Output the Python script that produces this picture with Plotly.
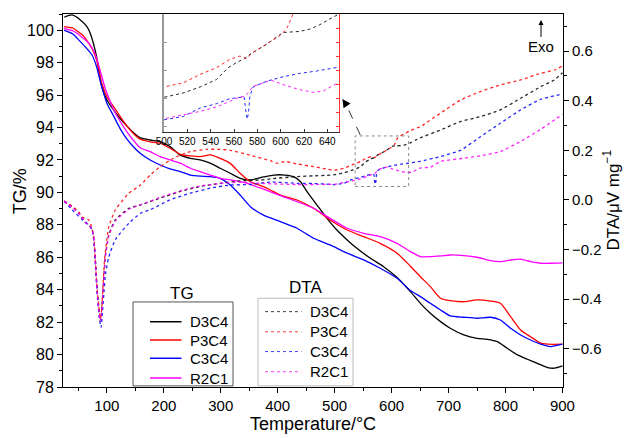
import plotly.graph_objects as go

# ---------------- TG data (temperature / °C, mass / %) ----------------
d3c4_tg_t = [25, 39, 53, 65, 71, 82, 91, 100, 112, 123, 135, 147, 158.5, 176, 193.7, 211, 229, 246.6, 264, 281.5,
             299, 316.7, 334, 352, 375, 393, 413, 428, 440, 451.5, 469, 486.6, 504, 522, 539, 562.7, 586, 609.7,
             633, 650.6, 668, 686, 703, 727, 750, 768, 785.6, 803, 821, 838.7, 856, 874, 886, 900]
d3c4_tg = [100.8, 100.94, 100.65, 100.22, 99.8, 98.37, 96.52, 95.7, 95.08, 94.57, 94.1, 93.68, 93.38, 93.23, 93.13,
           92.82, 92.3, 92.1, 92.0, 91.8, 91.49, 91.18, 90.87, 90.77, 90.95, 91.07, 91.07, 90.97, 90.66, 90.05,
           89.22, 88.4, 87.68, 87.07, 86.55, 85.94, 85.42, 84.75, 83.88, 83.16, 82.55, 82.03, 81.62, 81.21, 81.0,
           80.94, 80.8, 80.39, 79.98, 79.71, 79.46, 79.2, 79.16, 79.3]

p3c4_tg_t = [25, 41, 48, 59, 68, 75, 82, 91, 100, 112, 123, 135, 147, 158.5, 176, 193.7, 211, 229, 246.6, 264, 281.5,
             299, 316.7, 334, 352, 375, 387, 404.6, 434, 463, 492, 522, 551, 580, 609.7, 633, 650.6, 668, 686, 703,
             727, 750, 773.6, 791, 809, 826.6, 844, 862, 874, 900]
p3c4_tg = [100.22, 100.12, 99.95, 99.65, 99.2, 98.8, 98.16, 96.73, 95.9, 95.28, 94.7, 94.1, 93.62, 93.28, 93.12,
           93.03, 92.72, 92.35, 92.25, 92.2, 92.31, 92.1, 91.79, 91.18, 90.66, 90.35, 90.15, 89.84, 89.53, 89.02,
           88.3, 87.68, 87.27, 86.86, 86.25, 85.45, 84.8, 84.19, 83.47, 83.32, 83.26, 83.37, 83.3, 83.16, 82.34,
           81.52, 81.1, 80.7, 80.64, 80.64]

c3c4_tg_t = [25, 41, 48, 62, 74, 82, 91, 100, 112, 123, 135, 147, 158.5, 176, 193.7, 211, 229, 246.6, 264, 281.5,
             299, 316.7, 334, 352, 375, 404.6, 434, 463, 492, 522, 551, 580, 609.7, 633, 650.6, 668, 686, 703, 727,
             750, 773.6, 791, 809, 826.6, 844, 862, 879, 900]
c3c4_tg = [100.0, 99.75, 99.5, 98.98, 98.47, 97.75, 96.52, 95.5, 94.7, 93.95, 93.3, 92.8, 92.41, 92.0, 91.69, 91.45,
           91.28, 91.07, 91.0, 90.97, 90.87, 90.46, 89.84, 89.12, 88.6, 88.2, 87.79, 87.17, 86.76, 86.25, 85.84,
           85.32, 84.7, 83.95, 83.57, 83.16, 82.75, 82.38, 82.3, 82.24, 82.3, 82.13, 81.62, 81.21, 80.9, 80.64,
           80.49, 80.64]

r2c1_tg_t = [25, 41, 48, 68, 79, 88, 97, 106, 112, 123, 135, 147, 158.5, 176, 193.7, 211, 229, 246.6, 264, 281.5,
             299, 316.7, 334, 352, 375, 404.6, 434, 463, 492, 522, 551, 580, 609.7, 633, 650.6, 668, 686, 703, 727,
             750, 773.6, 791, 809, 826.6, 844, 862, 879, 900]
r2c1_tg = [100.12, 99.95, 99.8, 99.2, 98.58, 97.55, 96.42, 95.6, 95.1, 94.4, 93.75, 93.2, 92.75, 92.51, 92.2, 92.0,
           91.8, 91.49, 91.28, 91.07, 90.87, 90.77, 90.66, 90.5, 90.2, 89.8, 89.43, 89.02, 88.4, 87.79, 87.48,
           87.27, 86.86, 86.35, 86.04, 86.04, 86.08, 86.14, 86.1, 86.0, 85.79, 85.73, 85.83, 85.88, 85.73, 85.63,
           85.63, 85.65]

# ---------------- DTA data (temperature / °C, µV/mg) ----------------
d3c4_dta_t = [25, 39, 51, 62, 70, 75, 78, 80.5, 83, 86, 88, 90, 91.7, 94.7, 97.6, 103.5, 115, 138.7, 159, 193.7,
              229, 264, 299, 334, 370, 387, 434, 463, 485,
              500, 516.5, 531, 545, 555, 562, 569, 573.6, 588, 602, 608, 616, 625, 633, 642, 650,
              686, 721, 756, 791, 826.6, 862, 886, 900]
d3c4_dta = [-0.005, -0.027, -0.054, -0.09, -0.105, -0.13, -0.18, -0.26, -0.36, -0.44, -0.49, -0.47, -0.42, -0.31,
            -0.22, -0.14, -0.08, -0.034, -0.02, 0.007, 0.034, 0.054, 0.067, 0.077, 0.08, 0.085, 0.094, 0.097, 0.099,
            0.1016, 0.1094, 0.120, 0.1333, 0.1543, 0.1633, 0.1705, 0.1782, 0.196, 0.2171, 0.2183, 0.2189, 0.2231,
            0.2303, 0.241, 0.25,
            0.282, 0.316, 0.336, 0.363, 0.41, 0.457, 0.484, 0.513]

p3c4_dta_t = [25, 39, 51, 57, 68, 72, 77, 80, 83, 86, 88.8, 91, 93, 96, 100, 103.5, 115, 138.7, 159, 176, 193.7,
              217, 246.6, 276, 299, 316.7, 352, 387, 399, 413, 434, 463, 485,
              500, 516.5, 531, 545, 556.5, 565, 570.7, 576, 588, 599, 605, 610.6, 633, 650.6,
              686, 721, 756, 791, 826.6, 862, 886, 900]
p3c4_dta = [-0.005, -0.025, -0.05, -0.07, -0.08, -0.1, -0.148, -0.254, -0.363, -0.43, -0.48, -0.44, -0.36, -0.24,
            -0.16, -0.108, -0.04, 0.027, 0.06, 0.1, 0.134, 0.168, 0.195, 0.204, 0.204, 0.2, 0.18, 0.158, 0.148,
            0.155, 0.145, 0.134, 0.125,
            0.120, 0.1274, 0.1423, 0.1543, 0.1692, 0.1751, 0.1705, 0.1812, 0.196, 0.211, 0.223, 0.25, 0.28, 0.296,
            0.35, 0.403, 0.437, 0.464, 0.484, 0.511, 0.524, 0.54]

c3c4_dta_t = [25, 39, 57, 68, 74, 77, 80, 83, 86, 88.5, 90, 91.7, 94.7, 97.6, 103.5, 115, 138.7, 159, 176, 211,
              246.6, 281.5, 316.7, 352, 387, 434, 463, 485,
              500, 516.5, 531, 545, 556.5, 565, 568.7, 570, 571.3, 572.4, 573.6, 576.4, 588, 602, 616, 630.6, 642,
              650, 686, 721, 756, 791, 826.6, 862, 900]
c3c4_dta = [-0.005, -0.04, -0.08, -0.1, -0.12, -0.16, -0.27, -0.38, -0.46, -0.5, -0.515, -0.47, -0.38, -0.3, -0.23,
            -0.16, -0.094, -0.054, -0.04, 0.0, 0.027, 0.047, 0.06, 0.062, 0.072, 0.067, 0.066, 0.064,
            0.0615, 0.0674, 0.0825, 0.0902, 0.0992, 0.1022, 0.1022, 0.0794, 0.0627, 0.0735, 0.1033, 0.120, 0.1303,
            0.1381, 0.1441, 0.1483, 0.1525, 0.1554,
            0.175, 0.2, 0.255, 0.309, 0.363, 0.406, 0.427]

r2c1_dta_t = [25, 39, 51, 62, 70, 75, 78, 80.5, 83, 86, 88.5, 90, 91.7, 94.7, 97.6, 103.5, 115, 138.7, 159, 193.7,
              229, 264, 299, 334, 375, 434, 463, 485,
              500, 516.5, 531, 545, 556.5, 565, 568.7, 570.7, 576.4, 588, 592, 602, 616, 627.5, 636, 650,
              668, 686, 726, 756, 791, 826, 862, 900]
r2c1_dta = [-0.005, -0.03, -0.055, -0.09, -0.105, -0.13, -0.18, -0.27, -0.37, -0.45, -0.49, -0.475, -0.43, -0.32,
            -0.23, -0.145, -0.085, -0.038, -0.02, 0.01, 0.036, 0.056, 0.066, 0.072, 0.066, 0.062, 0.062, 0.063,
            0.0633, 0.0705, 0.0764, 0.0843, 0.0943, 0.1022, 0.1033, 0.1064, 0.1213, 0.1303, 0.132, 0.1243, 0.1153,
            0.1105, 0.1123, 0.1285,
            0.132, 0.155, 0.168, 0.178, 0.195, 0.235, 0.285, 0.345]

sample_names = ["D3C4", "P3C4", "C3C4", "R2C1"]
colors = ["#000000", "#ff0000", "#0000ff", "#ff00ff"]
tg_series = [(d3c4_tg_t, d3c4_tg), (p3c4_tg_t, p3c4_tg), (c3c4_tg_t, c3c4_tg), (r2c1_tg_t, r2c1_tg)]
dta_series = [(d3c4_dta_t, d3c4_dta), (p3c4_dta_t, p3c4_dta), (c3c4_dta_t, c3c4_dta), (r2c1_dta_t, r2c1_dta)]

FONT = "Liberation Sans, Arial, Helvetica, sans-serif"

fig = go.Figure()

for name, col, (t, v) in zip(sample_names, colors, tg_series):
    fig.add_trace(go.Scatter(x=t, y=v, name=name, mode="lines", showlegend=False,
                             line=dict(color=col, width=1.3, shape="spline", smoothing=0.6),
                             xaxis="x", yaxis="y"))

for name, col, (t, v) in zip(sample_names, colors, dta_series):
    fig.add_trace(go.Scatter(x=t, y=v, name=name, mode="lines", showlegend=False,
                             line=dict(color=col, width=1.3, dash="dot", shape="spline", smoothing=0.5),
                             opacity=0.85, xaxis="x", yaxis="y2"))

# inset (zoom of DTA 500-650 °C)
for i, (name, col, (t, v)) in enumerate(zip(sample_names, colors, dta_series)):
    fig.add_trace(go.Scatter(x=t, y=v, name=name, mode="lines", showlegend=False,
                             line=dict(color=col, width=1, dash="dot"),
                             opacity=0.85, xaxis="x3", yaxis="y4" if i == 1 else "y3"))

axis_common = dict(showgrid=False, zeroline=False, showline=True, linecolor="black", linewidth=1,
                   tickcolor="black", ticks="outside", ticklen=5, automargin=False)

fig.update_layout(
    width=625, height=438,
    margin=dict(l=63, r=62, t=14, b=51, autoexpand=False),
    paper_bgcolor="white", plot_bgcolor="white",
    font=dict(family=FONT, size=16, color="black"),
    showlegend=False,
    xaxis=dict(axis_common, domain=[0, 1], range=[23, 901], tick0=0, dtick=100, mirror=True,
               minor=dict(ticks="outside", dtick=50, ticklen=3, tickcolor="black"),
               tickfont=dict(size=15),
               title=dict(text="Temperature/°C", font=dict(size=18), standoff=4)),
    yaxis=dict(axis_common, range=[78, 101], tick0=0, dtick=2,
               minor=dict(ticks="outside", dtick=1, ticklen=3, tickcolor="black")),
    yaxis2=dict(axis_common, overlaying="y", side="right", anchor="x", range=[-0.755, 0.75], tick0=0, dtick=0.2,
                tickformat=".1f", tickfont=dict(size=15),
                minor=dict(ticks="outside", dtick=0.1, ticklen=3, tickcolor="black")),
    xaxis3=dict(domain=[0.202, 0.552], anchor="y3", range=[500, 650], tick0=500, dtick=20, automargin=False,
                showgrid=False, zeroline=False, showline=True, linecolor="#333333", linewidth=1,
                ticks="inside", ticklen=3, tickcolor="#333333", tickfont=dict(size=10)),
    yaxis3=dict(domain=[0.684, 1.0], anchor="x3", range=[0.04, 0.25], tick0=0, dtick=0.05, automargin=False,
                showgrid=False, zeroline=False, showline=True, linecolor="#999999", linewidth=1.5,
                ticks="inside", ticklen=3, tickcolor="#999999", showticklabels=False),
    yaxis4=dict(overlaying="y3", anchor="x3", side="right", range=[0.04, 0.25], tick0=0, dtick=0.025,
                automargin=False,
                showgrid=False, zeroline=False, showline=True, linecolor="#ff3333", linewidth=1,
                ticks="inside", ticklen=3, tickcolor="#ff3333", showticklabels=False),
)

# axis titles placed exactly
fig.add_annotation(xref="paper", yref="paper", x=-0.086, y=0.525, text="TG/%", textangle=-90,
                   showarrow=False, font=dict(size=18), xanchor="center", yanchor="middle")
fig.add_annotation(xref="paper", yref="paper", x=1.096, y=0.5, text="DTA/μV mg<sup>−1</sup>", textangle=-90,
                   showarrow=False, font=dict(size=17), xanchor="center", yanchor="middle")

# dotted box marking the zoomed region and dashed arrow to the inset
fig.add_shape(type="rect", xref="x", yref="y2", x0=536, x1=630, y0=0.054, y1=0.258,
              line=dict(color="#888888", width=1, dash="dot"))
fig.add_shape(type="line", xref="x", yref="y2", x0=545, y0=0.262, x1=519, y1=0.39,
              line=dict(color="#333333", width=1, dash="dash"))
fig.add_annotation(xref="x", yref="y2", x=513.5, y=0.407, axref="x", ayref="y2", ax=520, ay=0.385,
                   text="", showarrow=True, arrowhead=2, arrowsize=1.4, arrowwidth=1.2, arrowcolor="black")

# ---- hand-built legends (boxes with headings above them) ----
legend_specs = [
    dict(head="TG", bx=(0.14, 0.34), by=(0.003, 0.228), hx=0.238, hy=0.252,
         rows=[0.175, 0.126, 0.077, 0.024], sx=(0.174, 0.237), tx=0.249, dash="solid", width=1.5,
         opacity=1.0, border="#555555"),
    dict(head="DTA", bx=(0.39, 0.58), by=(0.003, 0.238), hx=0.484, hy=0.268,
         rows=[0.202, 0.148, 0.095, 0.041], sx=(0.404, 0.477), tx=0.49, dash="dot", width=1.0,
         opacity=0.75, border="#bbbbbb"),
]
for spec in legend_specs:
    fig.add_shape(type="rect", xref="paper", yref="paper", x0=spec["bx"][0], x1=spec["bx"][1],
                  y0=spec["by"][0], y1=spec["by"][1], fillcolor="white",
                  line=dict(color=spec["border"], width=1), layer="above")
    fig.add_annotation(xref="paper", yref="paper", x=spec["hx"], y=spec["hy"], text=spec["head"],
                       showarrow=False, font=dict(size=17), xanchor="center", yanchor="middle")
    for name, col, ry in zip(sample_names, colors, spec["rows"]):
        fig.add_shape(type="line", xref="paper", yref="paper", x0=spec["sx"][0], x1=spec["sx"][1],
                      y0=ry, y1=ry, opacity=spec["opacity"],
                      line=dict(color=col, width=spec["width"], dash=spec["dash"]), layer="above")
        fig.add_annotation(xref="paper", yref="paper", x=spec["tx"], y=ry, text=name, showarrow=False,
                           font=dict(size=15), xanchor="left", yanchor="middle")

# Exo marker
fig.add_annotation(xref="paper", yref="paper", x=0.956, y=0.984, text="Exo", showarrow=True,
                   ax=0, ay=27, arrowhead=2, arrowsize=1, arrowwidth=1, arrowcolor="black",
                   font=dict(size=15))

fig.write_html("out.html", config={"displayModeBar": False},
               post_script="document.body.style.margin='0';document.body.style.padding='0';")
